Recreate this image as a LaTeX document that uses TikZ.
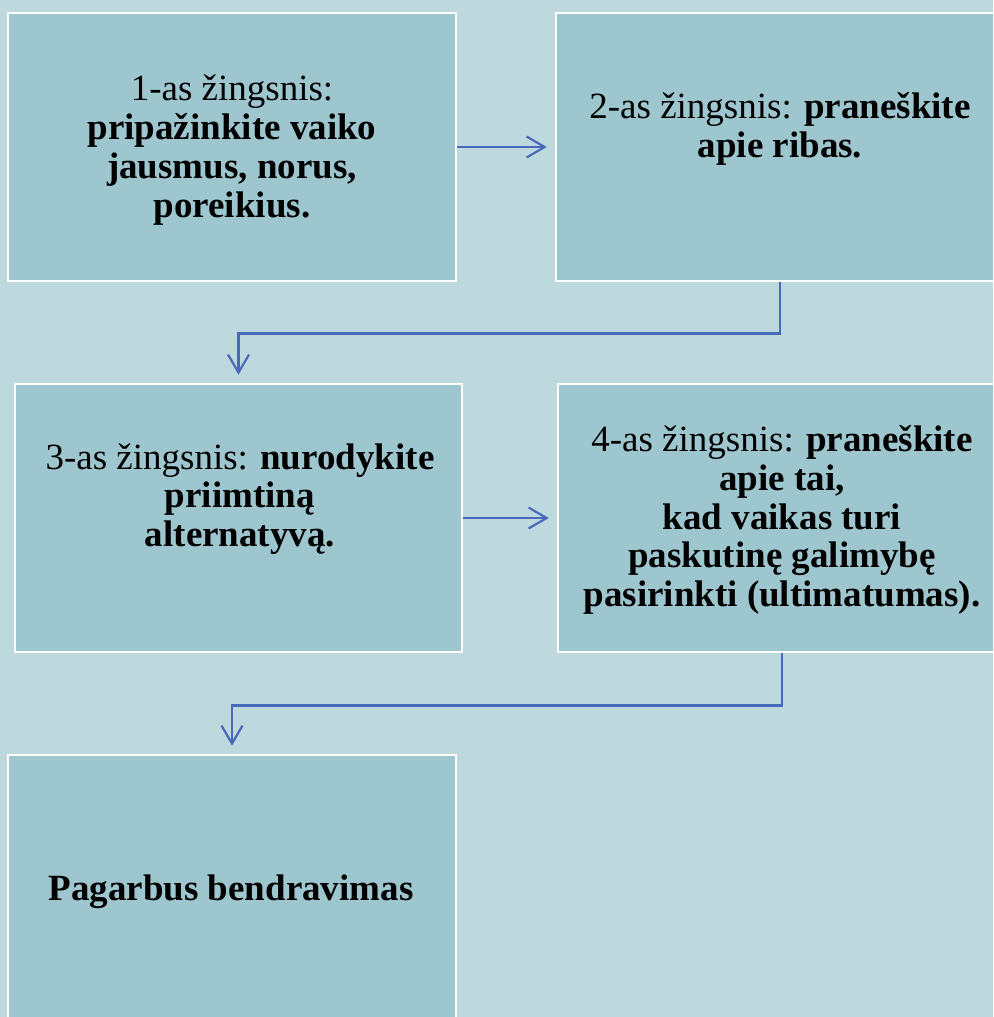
\documentclass[tikz,border=0pt]{standalone}
\usepackage{fontspec}
\setmainfont{Liberation Serif}
\usetikzlibrary{arrows.meta}
\definecolor{bgcol}{HTML}{BDD9DE}
\definecolor{boxcol}{HTML}{9DC6CF}
\definecolor{arrcol}{HTML}{4A69BD}
\begin{document}
\begin{tikzpicture}[x=1pt,y=-1pt,
  stepbox/.style={rectangle, draw=white, line width=2.5pt, fill=boxcol, minimum width=448pt, minimum height=268pt, inner sep=0pt},
  steptext/.style={align=center, inner sep=0pt, font=\fontsize{37}{38.8}\selectfont, text=black},
  conn/.style={draw=arrcol, line width=2.6pt, -{Straight Barb[length=18pt,width=21pt,line width=2.2pt]}, shorten >=8pt}]
\useasboundingbox (0,0) rectangle (993,1017);
\clip (0,0) rectangle (993,1017);
\fill[bgcol] (0,0) rectangle (993,1017);
% boxes
\node[stepbox] (b1) at (232,147) {};
\node[stepbox] (b2) at (780,147) {};
\node[stepbox, minimum width=447pt] (b3) at (238.5,518) {};
\node[stepbox] (b4) at (782,518) {};
\node[stepbox] (b5) at (232,889) {};
% texts
\node[steptext] (t1) at (232,150) {1-as žingsnis:\\ \textbf{pripažinkite vaiko}\\ \textbf{jausmus, norus,}\\ \textbf{poreikius.}};
\node[steptext] (t2) at (780,129) {2-as žingsnis: \textbf{praneškite}\\ \textbf{apie ribas.}};
\node[steptext] (t3) at (240,499) {3-as žingsnis: \textbf{nurodykite}\\ \textbf{priimtiną}\\ \textbf{alternatyvą.}};
\node[steptext] (t4) at (782,520) {4-as žingsnis: \textbf{praneškite}\\ \textbf{apie tai,}\\ \textbf{kad vaikas turi}\\ \textbf{paskutinę galimybę}\\ \textbf{pasirinkti (ultimatumas).}};
\node[steptext] (t5) at (231,892) {\textbf{Pagarbus bendravimas}};
% connectors
\draw[conn] (b1.east) -- (b2.west);
\draw[conn] (b3.east) -- (b4.west);
\draw[conn] (b2.south) -- ++(0,51) -| (b3.north);
\draw[conn] (b4.south) -- ++(0,52) -| (b5.north);
\end{tikzpicture}
\end{document}
